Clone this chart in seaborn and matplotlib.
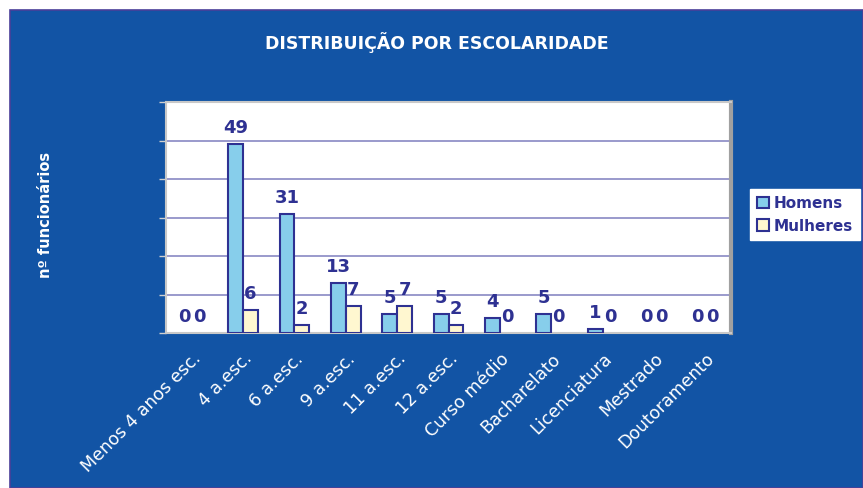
import matplotlib
matplotlib.use("Agg")
import matplotlib.pyplot as plt
from matplotlib.patches import Rectangle
import matplotlib.transforms as mtransforms
import seaborn as sns
import pandas as pd

categories = ["Menos 4 anos esc.", "4 a.esc.", "6 a.esc.", "9 a.esc.", "11 a.esc.",
              "12 a.esc.", "Curso médio", "Bacharelato", "Licenciatura", "Mestrado",
              "Doutoramento"]
homens = [0, 49, 31, 13, 5, 5, 4, 5, 1, 0, 0]
mulheres = [0, 6, 2, 7, 7, 2, 0, 0, 0, 0, 0]
series_names = ["Homens", "Mulheres"]
title = "DISTRIBUIÇÃO POR ESCOLARIDADE"
ylabel = "nº funcionários"

df = pd.DataFrame({
    "cat": categories * 2,
    "val": homens + mulheres,
    "serie": [series_names[0]] * len(categories) + [series_names[1]] * len(categories),
})

sns.set_theme(style="white")
plt.rcParams["font.family"] = ["DejaVu Sans"]

BG = "#1254A5"
NAVY = "#2E3192"
W, H = 863, 488
fig = plt.figure(figsize=(W / 100, H / 100), dpi=100, facecolor="white")
fig.patches.append(Rectangle((10 / W, 0), 1 - 10 / W, 1 - 10 / H, transform=fig.transFigure,
                             facecolor=BG, edgecolor="#4A3F9A", linewidth=1.2, zorder=-10))

ax = fig.add_axes([166 / W, 1 - 333 / H, (731 - 166) / W, (333 - 102) / H])
ax.set_zorder(5)
ax.set_facecolor("white")
sns.barplot(data=df, x="cat", y="val", hue="serie", order=categories, hue_order=series_names,
            palette=["#87CEEB", "#FFF7D0"], edgecolor=NAVY, linewidth=1.5, width=0.58,
            saturation=1, ax=ax, legend=True, zorder=3)
for cont in ax.containers:
    for rect, v in zip(cont.patches, cont.datavalues):
        if v == 0:
            rect.set_linewidth(0)
ax.set_ylim(0, 60)
ax.set_xlim(-0.5, len(categories) - 0.5)
ax.set_yticks(range(0, 61, 10))
ax.set_yticklabels([])
ax.yaxis.grid(True, color="#7F7FBF", linewidth=1.1, zorder=0)
ax.set_axisbelow(True)
ax.set_xticks([i - 0.5 for i in range(len(categories) + 1)], minor=True)
ax.set_xticks(range(len(categories)))
ax.set_xticklabels(categories, rotation=45, ha="right", rotation_mode="anchor",
                   color="white", fontsize=12.5)
offset = mtransforms.ScaledTranslation(-8 / 100, 0, fig.dpi_scale_trans)
for lbl in ax.get_xticklabels():
    lbl.set_transform(lbl.get_transform() + offset)
ax.tick_params(axis="x", which="major", length=0, pad=12)
ax.tick_params(axis="x", which="minor", length=5, color="#D0D0D0", width=1, direction="out")
ax.tick_params(axis="y", length=5, color="#D0D0D0", width=1, direction="out", left=True)
ax.set_xlabel("")
ax.set_ylabel("")
for side in ["left", "bottom", "top"]:
    ax.spines[side].set_color("#C8C8C8")
    ax.spines[side].set_linewidth(1.5)
ax.spines["right"].set_color("#A0A0A0")
ax.spines["right"].set_linewidth(3)

for cont in ax.containers:
    ax.bar_label(cont, labels=[f"{int(v)}" for v in cont.datavalues], padding=5,
                 color=NAVY, fontsize=13, fontweight="bold")

leg = ax.legend(loc="upper left", bbox_to_anchor=(750 / W, 1 - 189 / H),
                bbox_transform=fig.transFigure, frameon=True, fancybox=False, framealpha=1,
                fontsize=11, handlelength=0.8, handleheight=0.8, handletextpad=0.3,
                borderpad=0.45, labelspacing=0.5, borderaxespad=0)
leg.get_frame().set_facecolor("white")
leg.get_frame().set_edgecolor("white")
for t in leg.get_texts():
    t.set_color(NAVY)
    t.set_fontweight("bold")

fig.text(437 / W, 1 - 43 / H, title, color="white", fontsize=12.5, fontweight="bold",
         ha="center", va="center")
fig.text(45 / W, 1 - 215 / H, ylabel, color="white", fontsize=10.5, fontweight="bold",
         ha="center", va="center", rotation=90)

fig.savefig("out.png", dpi=100, facecolor=fig.get_facecolor())
